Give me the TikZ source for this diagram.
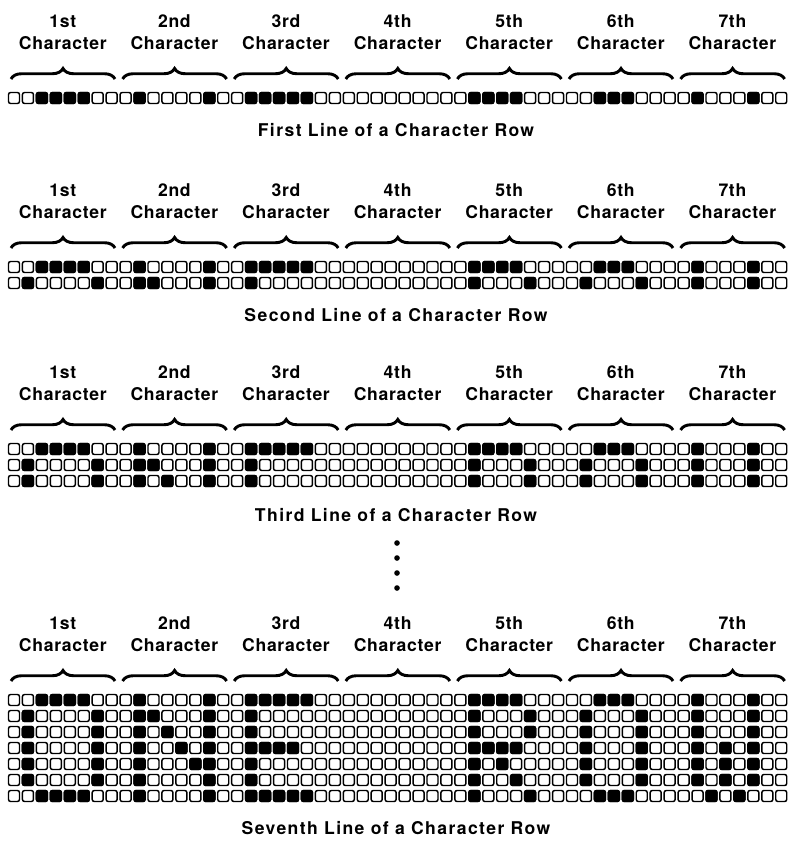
\documentclass[tikz,border=0pt]{standalone}
\usepackage{fontspec}
\setmainfont{TeX Gyre Heros}[LetterSpace=4]
\usetikzlibrary{decorations.pathreplacing}

% lit dots of each scan line (columns 0..55, eight per character)
\newcommand{\litcols}[1]{\ifcase#1\or
  2,3,4,5,9,14,17,18,19,20,21,33,34,35,36,42,43,44,49,53\or
  1,6,9,10,14,17,33,37,41,45,49,53\or
  1,6,9,11,14,17,33,37,41,45,49,53\or
  1,6,9,12,14,17,18,19,20,33,34,35,36,41,45,49,51,53\or
  1,6,9,13,14,17,33,35,41,45,49,51,53\or
  1,6,9,14,17,33,36,41,45,49,51,53\or
  2,3,4,5,9,14,17,18,19,20,21,33,37,42,43,44,50,52\fi}

% #1 = y of first line, #2 = number of lines
\newcommand{\dotlines}[2]{%
  \foreach \k in {1,...,#2}{
    \pgfmathsetmacro{\yy}{#1+16*(\k-1)}
    \foreach \c in {0,...,55}
      \draw[cell] ({14+13.95*\c-5.5},{\yy-5.5}) rectangle ++(11,11);
    \edef\lst{\litcols{\k}}
    \foreach \c in \lst
      \draw[cell, fill=black] ({14+13.95*\c-5.5},{\yy-5.5}) rectangle ++(11,11);
  }}

% #1 = name prefix, #2 = y of labels, #3 = y of braces
\newcommand{\charheads}[3]{%
  \foreach \o [count=\i from 0] in {1st,2nd,3rd,4th,5th,6th,7th}{
    \node[head] (#1\i) at ({62.8+111.6*\i},#2) {\o\\Character};
    \draw[brace] ({11+111.6*\i},#3) -- ({115+111.6*\i},#3);
  }}

\begin{document}
\begin{tikzpicture}[x=0.03cm, y=-0.03cm,
    head/.style={align=center, inner sep=0pt, font=\bfseries\fontsize{15}{18.8}\selectfont},
    rowcap/.style={inner sep=0pt, font=\bfseries\fontsize{15}{18}\selectfont\addfontfeatures{LetterSpace=8}},
    cell/.style={draw=black, line width=1.25pt, rounded corners=1.8pt},
    brace/.style={decorate, decoration={brace, amplitude=9pt}, line width=2.5pt}
]
\useasboundingbox (0,0) rectangle (791,841);

% first line
\charheads{a}{32}{79}
\dotlines{98}{1}
\node[rowcap] (capa) at (396,130) {First Line of a Character Row};

% second line
\charheads{b}{201}{248}
\dotlines{267}{2}
\node[rowcap] (capb) at (396,315) {Second Line of a Character Row};

% third line
\charheads{c}{383}{430}
\dotlines{449}{3}
\node[rowcap] (capc) at (396,515) {Third Line of a Character Row};

% ellipsis
\foreach \d in {0,...,3}
  \fill (397,{543+15*\d}) circle (2.4pt);

% seventh line
\charheads{d}{634}{681}
\dotlines{700}{7}
\node[rowcap] (capd) at (396,828) {Seventh Line of a Character Row};
\end{tikzpicture}
\end{document}
